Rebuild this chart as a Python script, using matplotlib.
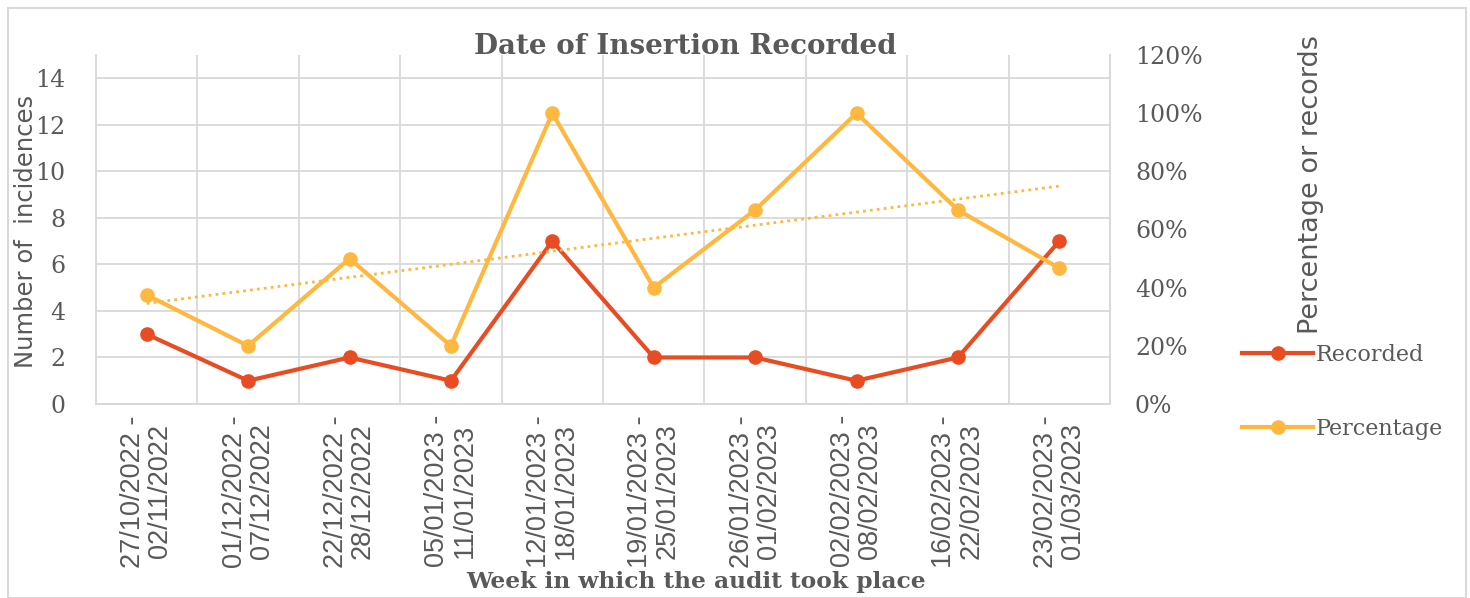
import matplotlib.pyplot as plt
import numpy as np
from matplotlib.lines import Line2D
from matplotlib.patches import Rectangle

# Данные
weeks = ['27/10/2022 -\n02/11/2022', '01/12/2022 -\n07/12/2022', '22/12/2022 -\n28/12/2022',
         '05/01/2023 -\n11/01/2023', '12/01/2023 -\n18/01/2023', '19/01/2023 -\n25/01/2023',
         '26/01/2023 -\n01/02/2023', '02/02/2023 -\n08/02/2023', '16/02/2023 -\n22/02/2023',
         '23/02/2023 -\n01/03/2023']
recorded = [3, 1, 2, 1, 7, 2, 2, 1, 2, 7]
percentage = [0.375, 0.20, 0.50, 0.20, 1.00, 0.40, 0.667, 1.00, 0.667, 0.467]

red = '#E84C22'
yellow = '#FFB83F'
txt = '#595959'
grid = '#D9D9D9'
serif = 'DejaVu Serif'

fig = plt.figure(figsize=(14.7, 5.98), dpi=100)
fig.patches.append(Rectangle((8 / 1470, 0), 1 - 12 / 1470, 1 - 8 / 598, transform=fig.transFigure,
                             fill=False, edgecolor=grid, linewidth=1.5))

ax = fig.add_axes([96 / 1470, 1 - 404 / 598, (1110 - 96) / 1470, (404 - 55) / 598])
ax2 = ax.twinx()

x = np.arange(len(weeks))
ax.plot(x, recorded, color=red, lw=3, marker='o', ms=9.5, zorder=3)
ax2.plot(x, percentage, color=yellow, lw=3, marker='o', ms=9.5, zorder=3)

# Линейный тренд по процентам
k, b = np.polyfit(x + 1, percentage, 1)
ax2.plot(x, k * (x + 1) + b, color=yellow, lw=2, linestyle=(0, (1, 1.5)), zorder=2)

ax.set_xlim(-0.5, len(weeks) - 0.5)
ax.set_ylim(0, 15)
ax2.set_ylim(0, 1.2)
ax.set_yticks(range(0, 15, 2))
ax2.set_yticks(np.arange(0, 1.21, 0.2))
ax2.set_yticklabels([f'{int(round(v * 100))}%' for v in np.arange(0, 1.21, 0.2)])

ax.set_xticks(x)
ax.set_xticklabels(weeks, rotation=90, family='Liberation Sans', fontsize=19.5,
                   color=txt, multialignment='center', linespacing=1.05)
ax.set_xticks(np.arange(-0.5, len(weeks)), minor=True)
ax.grid(True, which='minor', axis='x', color=grid, lw=1.3)
ax.grid(True, which='major', axis='y', color=grid, lw=1.3)
ax.set_axisbelow(True)
ax.tick_params(axis='x', which='both', length=0, pad=8)
ax.tick_params(axis='y', length=0, pad=22, labelsize=17, labelcolor=txt)
ax2.tick_params(axis='y', length=0, pad=18, labelsize=17, labelcolor=txt)
for lab in ax.get_yticklabels() + ax2.get_yticklabels():
    lab.set_family(serif)

for a in (ax, ax2):
    for s in a.spines.values():
        s.set_color(grid)
        s.set_linewidth(1.3)
    a.spines['top'].set_visible(False)

fig.text(685 / 1470, 1 - 47 / 598, 'Date of Insertion Recorded', ha='center', va='center',
         family=serif, fontweight='bold', fontsize=20, color=txt)
fig.text(696 / 1470, 1 - 582 / 598, 'Week in which the audit took place', ha='center', va='center',
         family=serif, fontweight='bold', fontsize=16.8, color=txt)
fig.text(26 / 1470, 1 - 231 / 598, 'Number of  incidences', rotation=90, ha='center', va='center',
         family='DejaVu Sans', fontsize=17.5, color=txt)
fig.text(1311 / 1470, 1 - 185 / 598, 'Percentage or records', rotation=90, ha='center', va='center',
         family='DejaVu Sans', fontsize=19.5, color=txt)

handles = [Line2D([], [], color=red, lw=3, marker='o', ms=9.5),
           Line2D([], [], color=yellow, lw=3, marker='o', ms=9.5)]
fig.legend(handles, ['Recorded', 'Percentage'], loc='upper left',
           bbox_to_anchor=(1222 / 1470, 1 - 324 / 598), frameon=False,
           handlelength=3.2, handletextpad=0.1, labelspacing=2.35,
           prop={'family': serif, 'size': 16}, labelcolor=txt)

fig.savefig('out.png', dpi=100)
